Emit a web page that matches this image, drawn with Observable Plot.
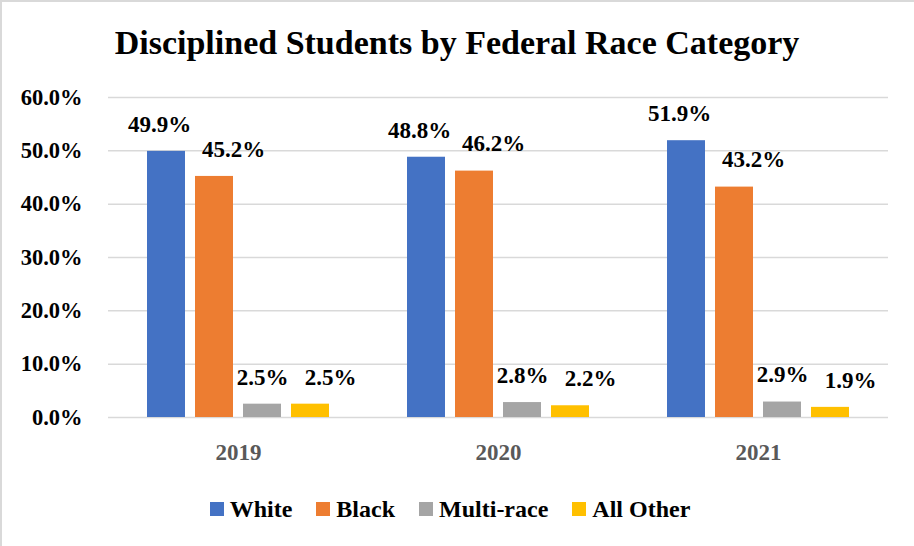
<!DOCTYPE html>
<html><head><meta charset="utf-8">
<script src="https://cdn.jsdelivr.net/npm/d3@7"></script>
<script src="https://cdn.jsdelivr.net/npm/@observablehq/plot@0.6"></script>
<style>
body{margin:0;background:#fff;}
#frame{position:relative;width:914px;height:546px;box-sizing:border-box;border-left:2px solid #d9d9d9;border-top:2px solid #d9d9d9;overflow:hidden;font-family:'Liberation Serif',serif;background:#fff;}
#title{position:absolute;left:-2px;width:914px;top:24px;text-align:center;font-weight:bold;font-size:34px;color:#000;line-height:1;}
#chart{position:absolute;left:-2px;top:-2px;}
#chart svg text{font-family:'Liberation Serif',serif;}
#legend{position:absolute;left:-9px;width:914px;top:493px;height:28px;display:flex;justify-content:center;align-items:center;gap:24px;font-weight:bold;font-size:24px;color:#000;}
.item{display:flex;align-items:center;gap:6px;}
.sw{width:14px;height:14px;display:inline-block;}
</style></head>
<body>
<div id="frame">
  <div id="title">Disciplined Students by Federal Race Category</div>
  <div id="chart"></div>
  <div id="legend"></div>
</div>
<script>
const years = ["2019", "2020", "2021"];
const races = ["White", "Black", "Multi-race", "All Other"];
const white = [49.9, 48.8, 51.9];
const black = [45.2, 46.2, 43.2];
const multi = [2.5, 2.8, 2.9];
const other = [2.5, 2.2, 1.9];
const colors = ["#4472C4", "#ED7D31", "#A5A5A5", "#FFC000"];
const yTicks = [0, 10, 20, 30, 40, 50, 60];

const series = [white, black, multi, other];
const table = [];
years.forEach((yr, i) => races.forEach((r, j) => table.push({year: yr, race: r, value: series[j][i]})));

const font = "'Liberation Serif', serif";
const labelShift = {"White": -7, "Black": 19, "Multi-race": 0, "All Other": 20};

const labelMarks = races.map(r => Plot.text(table.filter(d => d.race === r), {
  fx: "year", x: "race", y: "value",
  text: d => d.value.toFixed(1) + "%",
  dy: -27, dx: labelShift[r],
  fontSize: 23, fontWeight: "bold", fill: "#000", fontFamily: font
}));

const chart = Plot.plot({
  width: 914, height: 470,
  marginLeft: 108, marginRight: 26, marginTop: 97, marginBottom: 53,
  style: {fontFamily: font, fontSize: "22px", fontWeight: "bold", color: "#000", background: "transparent"},
  fx: {domain: years, padding: 0, label: null, axis: null},
  x: {domain: races, paddingInner: 0.21, paddingOuter: 0.77, axis: null},
  y: {domain: [0, 60], label: null, axis: null},
  color: {domain: races, range: colors},
  marks: [
    Plot.gridY(yTicks, {stroke: "#d9d9d9", strokeOpacity: 1, strokeWidth: 1.5}),
    Plot.barY(table, {fx: "year", x: "race", y: "value", fill: "race"}),
    ...labelMarks,
    Plot.axisY(yTicks, {tickSize: 0, tickPadding: 26, tickFormat: d => d.toFixed(1) + "%", label: null, fontSize: 22.5, fill: "#000", fontFamily: font}),
    Plot.axisFx({anchor: "bottom", tickSize: 0, tickPadding: 26, label: null, fontSize: 23, fill: "#595959", fontFamily: font})
  ]
});
document.getElementById("chart").appendChild(chart);

const legend = document.getElementById("legend");
races.forEach((r, i) => {
  const item = document.createElement("div");
  item.className = "item";
  const sw = document.createElement("span");
  sw.className = "sw";
  sw.style.background = colors[i];
  const t = document.createElement("span");
  t.textContent = r;
  item.appendChild(sw); item.appendChild(t);
  legend.appendChild(item);
});
</script>
</body></html>
